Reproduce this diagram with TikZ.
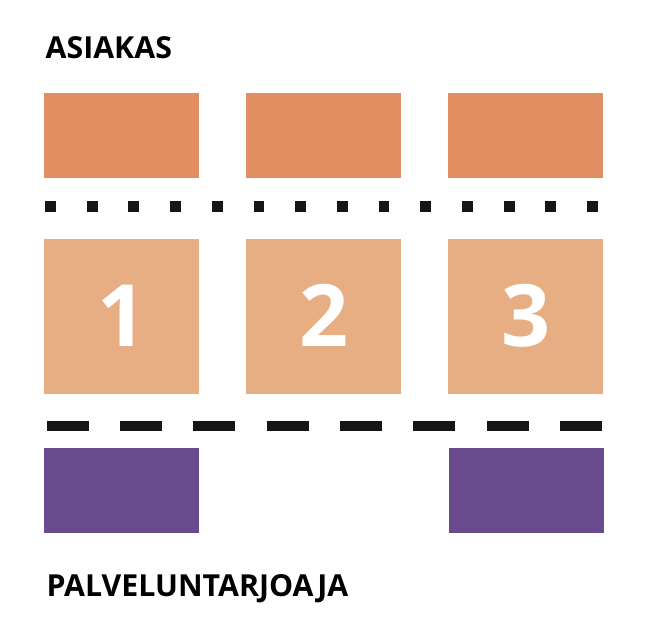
\documentclass[tikz,border=0pt]{standalone}
\usepackage{fontspec}
\setmainfont{Open Sans}
\definecolor{topor}{HTML}{E08E62}
\definecolor{midor}{HTML}{E7AE83}
\definecolor{purp}{HTML}{684C8E}
\definecolor{ink}{HTML}{161616}
\newcommand{\bignum}[1]{\raisebox{-29.5pt}[0pt][0pt]{#1}}
\begin{document}
\begin{tikzpicture}[x=1pt,y=-1pt,
  box/.style={draw=none,inner sep=0pt,minimum width=155pt,anchor=north west},
  topbox/.style={box,fill=topor,minimum height=85pt},
  midbox/.style={box,fill=midor,minimum height=155pt,text=white,font=\fontsize{86}{86}\selectfont\bfseries},
  purpbox/.style={box,fill=purp,minimum height=85pt},
  label/.style={anchor=base west,inner sep=0pt,font=\fontsize{30.3}{30}\selectfont\bfseries,text=black},
  dotline/.style={draw=ink,line width=11pt,dash pattern=on 10.8pt off 30.9pt},
  dashline/.style={draw=ink,line width=10.6pt,dash pattern=on 42pt off 31.33pt}]
\useasboundingbox (0,0) rectangle (648,644);
\node[label] (asiakas) at (45.5,59) {ASIAKAS};
\node[label] (palvelu) at (46.5,596) {PALVELUNTARJOAJA};
\node[topbox] (t1) at (44,93) {};
\node[topbox] (t2) at (246,93) {};
\node[topbox] (t3) at (448,93) {};
\node[midbox] (m1) at (44,239) {\bignum{1}};
\node[midbox] (m2) at (246,239) {\bignum{2}};
\node[midbox] (m3) at (448,239) {\bignum{3}};
\node[purpbox] (p1) at (44,448) {};
\node[purpbox] (p3) at (449,448) {};
\coordinate (d0) at (45,206.5);
\coordinate (d1) at (600,206.5);
\coordinate (e0) at (46.7,426);
\coordinate (e1) at (602,426);
\draw[dotline] (d0) -- (d1);
\draw[dashline] (e0) -- (e1);
\end{tikzpicture}
\end{document}
